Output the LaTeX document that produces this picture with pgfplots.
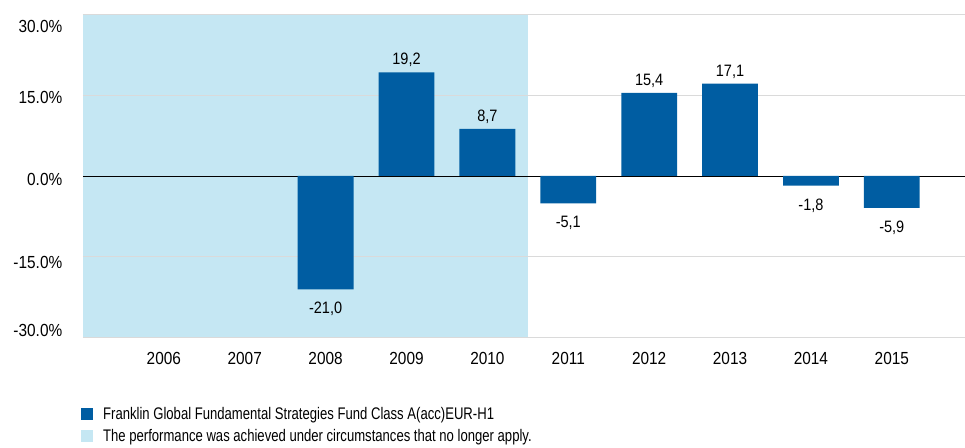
\documentclass[border=0pt]{standalone}
\usepackage{pgfplots}
\pgfplotsset{compat=1.18}
\usepackage{pgfplotstable}
\usepackage{fontspec}
\setmainfont{Liberation Sans}[FakeStretch=0.78]
\newfontfamily\lblfont{Liberation Sans}[FakeStretch=0.88]
\definecolor{barblue}{RGB}{0,93,162}
\definecolor{shade}{RGB}{197,231,243}
\definecolor{gridgray}{RGB}{218,218,218}
\pgfplotstableread{
x y label
3 19.2 {19,2}
4 8.7 {8,7}
6 15.4 {15,4}
7 17.1 {17,1}
}\perfpos
\pgfplotstableread{
x y label
2 -21.0 {-21,0}
5 -5.1 {-5,1}
8 -1.8 {-1,8}
9 -5.9 {-5,9}
}\perfneg
\begin{document}
\begin{tikzpicture}
\begin{axis}[
  name=ax,
  set layers,
  scale only axis,
  width=882pt, height=324pt,
  xmin=-1, xmax=9.9,
  ymin=-30, ymax=30,
  axis line style={draw=none},
  major tick length=0pt, minor tick length=0pt,
  xtick={0,...,9},
  xticklabels={2006,2007,2008,2009,2010,2011,2012,2013,2014,2015},
  ytick={-28.7,-16.0,-0.74,14.6,27.6},
  yticklabels={-30.0\%,-15.0\%,0.0\%,15.0\%,30.0\%},
  minor ytick={-30,-15,15,30},
  yminorgrids,
  minor grid style={gridgray, line width=0.8pt},
  extra y ticks={0},
  extra y tick labels={},
  extra y tick style={grid=major, major grid style={black, line width=0.8pt}},
  tick label style={font=\lblfont\fontsize{17.5pt}{20pt}\selectfont},
  yticklabel style={inner xsep=0pt, xshift=-20.5pt},
  xticklabel style={anchor=base, yshift=-27pt},
  legend style={at={(0,0)}, anchor=north west, xshift=-5pt, yshift=-65pt,
    draw=none, fill=none, font=\fontsize{16.8pt}{19pt}\selectfont,
    row sep=4.5pt,
    /tikz/every odd column/.append style={column sep=8pt}},
  legend cell align=left,
  legend image code/.code={\fill[#1] (0pt,-6pt) rectangle (12pt,6pt);},
  every node near coord/.append style={font=\lblfont\fontsize{16.5pt}{19pt}\selectfont, anchor=base},
]
\addplot[fill=shade, draw=none, on layer=axis background, forget plot]
  coordinates {(-1,-30) (4.5,-30) (4.5,30) (-1,30)} -- cycle;
\addplot[ybar, bar width=0.69, bar shift=0pt, fill=barblue, draw=none,
  nodes near coords, point meta=explicit symbolic,
  every node near coord/.append style={anchor=base, yshift=7.3pt}]
  table[x=x, y=y, meta=label] {\perfpos};
\addlegendentry{Franklin Global Fundamental Strategies Fund Class A(acc)EUR-H1}
\addplot[ybar, bar width=0.69, bar shift=0pt, fill=barblue, draw=none, forget plot,
  nodes near coords, point meta=explicit symbolic,
  every node near coord/.append style={anchor=base, yshift=-24.4pt}]
  table[x=x, y=y, meta=label] {\perfneg};
\addlegendimage{fill=shade, draw=none}
\addlegendentry{The performance was achieved under circumstances that no longer apply.}
\end{axis}
\path (ax.south west) ++(-83pt,-110pt) rectangle ([yshift=14pt]ax.north east);
\end{tikzpicture}
\end{document}
